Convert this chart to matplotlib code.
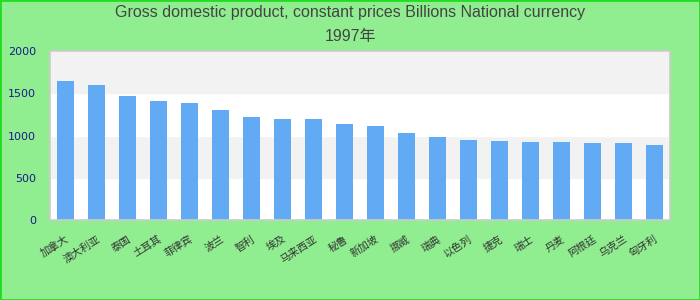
import matplotlib.pyplot as plt
from matplotlib.patches import Rectangle

# data (1997, billions national currency)
countries = ["加拿大", "澳大利亚", "泰国", "土耳其", "菲律宾", "波兰", "智利", "埃及",
             "马来西亚", "秘鲁", "新加坡", "挪威", "瑞典", "以色列", "捷克", "瑞士",
             "丹麦", "阿根廷", "乌克兰", "匈牙利"]
gdp = [1648, 1602, 1462, 1403, 1380, 1299, 1217, 1194, 1194, 1136,
       1113, 1031, 985, 950, 938, 927, 927, 915, 915, 892]
yticks = [0, 500, 1000, 1500, 2000]

plt.rcParams['font.family'] = ['DejaVu Sans', 'Noto Sans CJK SC']

fig = plt.figure(figsize=(7, 3), dpi=100, facecolor='#90ee90')
fig.patches.append(Rectangle((0, 0), 1, 1, transform=fig.transFigure, fill=False,
                             edgecolor='#22dd22', linewidth=2))
ax = fig.add_axes([50 / 700, 1 - 220 / 300, 620 / 700, 169 / 300])

# alternating bands
for i in range(len(yticks) - 1):
    ax.axhspan(yticks[i], yticks[i + 1], color='white' if i % 2 == 0 else '#f2f2f2', zorder=0)

x = range(len(countries))
ax.bar(x, gdp, width=0.55, color='#62aaf4', zorder=2)

ax.set_xlim(-0.5, len(countries) - 0.5)
ax.set_ylim(0, 2000)
ax.set_yticks(yticks)
ax.set_yticklabels([str(v) for v in yticks], color='#1a1a8c', fontsize=8)
ax.set_xticks(list(x))
ax.set_xticklabels(countries, rotation=32, ha='right', rotation_mode='anchor',
                   fontsize=7.5, color='#333333', family=['Noto Sans CJK SC', 'DejaVu Sans'])
ax.tick_params(axis='both', length=0)
ax.tick_params(axis='y', pad=10)
ax.tick_params(axis='x', pad=10)
for s in ax.spines.values():
    s.set_color('#cccccc')
    s.set_linewidth(1.2)

fig.text(0.5, 1 - 13 / 300, "Gross domestic product, constant prices Billions National currency",
         ha='center', va='center', fontsize=11.5, color='#444444', family='Liberation Sans')
fig.text(0.5, 1 - 36 / 300, "1997年", ha='center', va='center', fontsize=11.5, color='#444444',
         family=['Liberation Sans', 'Noto Sans CJK SC'])

fig.savefig('out.png', dpi=100, facecolor=fig.get_facecolor())
